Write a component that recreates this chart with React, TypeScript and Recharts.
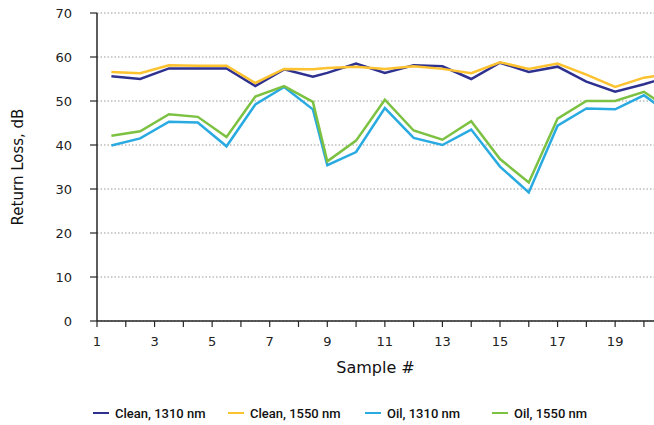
import { LineChart, Line, XAxis, YAxis, CartesianGrid } from 'recharts';

// sample position along the axis (point 9 sits half a step after 8.5)
const samples = [1.5, 2.5, 3.5, 4.5, 5.5, 6.5, 7.5, 8.5, 9, 10, 11, 12, 13, 14, 15, 16, 17, 18, 19, 20, 21];

const clean1310 = [55.6, 55.0, 57.4, 57.4, 57.4, 53.4, 57.2, 55.5, 56.4, 58.5, 56.4, 58.1, 57.9, 55.0, 58.7, 56.6, 57.8, 54.4, 52.1, 53.8, 55.8];
const clean1550 = [56.6, 56.3, 58.1, 58.0, 58.0, 54.1, 57.3, 57.2, 57.5, 57.8, 57.3, 57.9, 57.3, 56.3, 58.8, 57.3, 58.5, 56.0, 53.2, 55.3, 56.2];
const oil1310 = [39.9, 41.5, 45.3, 45.1, 39.7, 49.2, 53.2, 48.1, 35.4, 38.4, 48.4, 41.6, 40.0, 43.5, 35.1, 29.2, 44.4, 48.3, 48.1, 51.3, 46.5];
const oil1550 = [42.1, 43.1, 47.0, 46.4, 41.8, 51.0, 53.4, 49.8, 36.3, 41.0, 50.3, 43.3, 41.2, 45.4, 36.8, 31.5, 46.0, 50.0, 50.0, 52.1, 47.8];

const xTicks = [1, 2, 3, 4, 5, 6, 7, 8, 9, 10, 11, 12, 13, 14, 15, 16, 17, 18, 19, 20];
const yTicks = [0, 10, 20, 30, 40, 50, 60, 70];

const series = [
    { key: 'clean1310', name: 'Clean, 1310 nm', color: '#2e3190' },
    { key: 'clean1550', name: 'Clean, 1550 nm', color: '#fdc230' },
    { key: 'oil1310', name: 'Oil, 1310 nm', color: '#29aae1' },
    { key: 'oil1550', name: 'Oil, 1550 nm', color: '#7cc142' },
];

const data = samples.map((x, i) => ({
    x,
    clean1310: clean1310[i],
    clean1550: clean1550[i],
    oil1310: oil1310[i],
    oil1550: oil1550[i],
}));

const axisColor = '#262626';
const tickFont = { fontFamily: 'DejaVu Sans', fontSize: 13, fill: '#222' };

function YTitle({ viewBox }: any) {
    const cy = viewBox.y + viewBox.height / 2;
    return (
        <text
            x={18}
            y={cy}
            transform={`rotate(-90 18 ${cy})`}
            textAnchor="middle"
            dominantBaseline="central"
            fontFamily="DejaVu Sans"
            fontSize={15}
            fill="#111"
        >
            Return Loss, dB
        </text>
    );
}

function XTitle({ viewBox }: any) {
    const cx = viewBox.x + viewBox.width / 2;
    return (
        <text
            x={cx}
            y={367}
            textAnchor="middle"
            dominantBaseline="central"
            fontFamily="DejaVu Sans"
            fontSize={16}
            fill="#111"
        >
            Sample #
        </text>
    );
}

const legendLeft = [93, 228, 365, 492];

export default function App() {
    return (
        <div style={{ position: 'absolute', left: 0, top: 0, width: 654, height: 425, background: '#fff' }}>
            <LineChart
                width={654}
                height={425}
                data={data}
                margin={{ top: 13, right: 0, left: 0, bottom: 74 }}
            >
                <CartesianGrid
                    horizontal
                    vertical={false}
                    stroke="#9a9a9a"
                    strokeDasharray="1.5 2"
                />
                <XAxis
                    dataKey="x"
                    type="number"
                    domain={[1, 20.35]}
                    allowDataOverflow
                    ticks={xTicks}
                    interval={0}
                    tickFormatter={(v) => (v % 2 === 1 ? String(v) : '')}
                    height={30}
                    tickSize={6}
                    tickMargin={10}
                    tick={tickFont}
                    axisLine={{ stroke: axisColor, strokeWidth: 1.5 }}
                    tickLine={{ stroke: axisColor, strokeWidth: 1.2 }}
                    label={<XTitle />}
                />
                <YAxis
                    type="number"
                    domain={[0, 70]}
                    ticks={yTicks}
                    interval={0}
                    width={97}
                    tickSize={7}
                    tickMargin={18}
                    tick={tickFont}
                    axisLine={{ stroke: axisColor, strokeWidth: 1.5 }}
                    tickLine={{ stroke: axisColor, strokeWidth: 1.2 }}
                    label={<YTitle />}
                />
                {series.map((s) => (
                    <Line
                        key={s.key}
                        dataKey={s.key}
                        name={s.name}
                        type="linear"
                        stroke={s.color}
                        strokeWidth={2.5}
                        dot={false}
                        activeDot={false}
                        isAnimationActive={false}
                    />
                ))}
            </LineChart>
            {series.map((s, i) => (
                <div
                    key={s.key}
                    style={{
                        position: 'absolute',
                        left: legendLeft[i],
                        top: 404,
                        height: 18,
                        display: 'flex',
                        alignItems: 'center',
                        fontFamily: 'Roboto',
                        fontWeight: 500,
                        fontSize: 13,
                        color: '#111',
                        whiteSpace: 'nowrap',
                    }}
                >
                    <span style={{ display: 'inline-block', width: 16, height: 2.5, background: s.color, marginRight: 6 }} />
                    {s.name}
                </div>
            ))}
        </div>
    );
}
